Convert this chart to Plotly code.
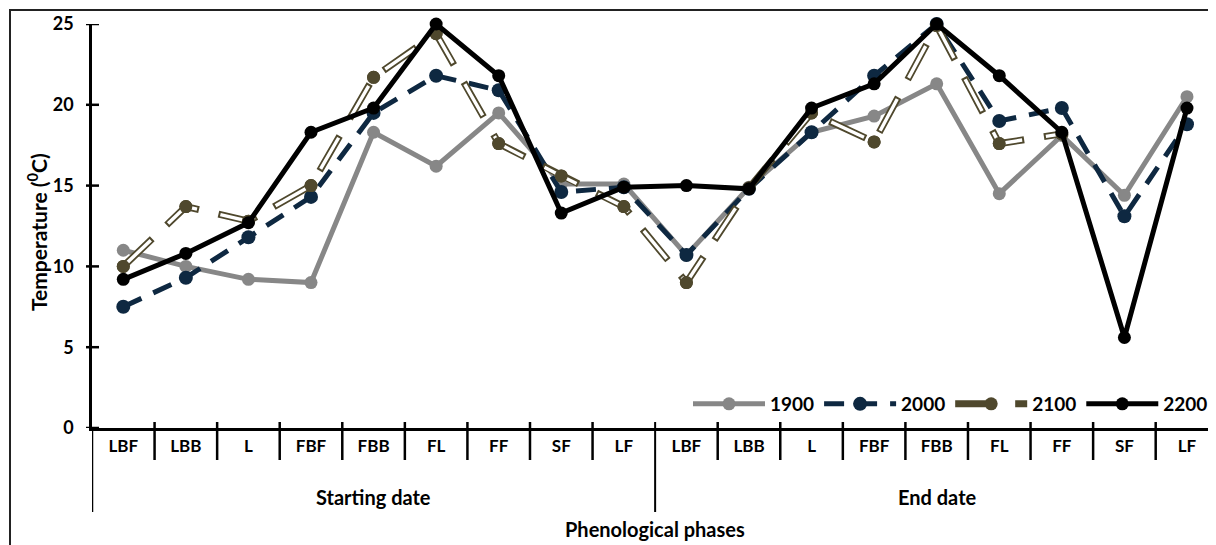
import plotly.graph_objects as go

# ---------------- data ----------------
phases = ["LBF", "LBB", "L", "FBF", "FBB", "FL", "FF", "SF", "LF"] * 2
groups = ["Starting date", "End date"]
y_ticks = [0, 5, 10, 15, 20, 25]

s1900 = [11.0, 10.0, 9.2, 9.0, 18.3, 16.2, 19.5, 15.1, 15.1,
         10.7, 14.9, 18.3, 19.3, 21.3, 14.5, 18.1, 14.4, 20.5]
s2000 = [7.5, 9.3, 11.8, 14.3, 19.5, 21.8, 20.9, 14.6, 14.9,
         10.7, 14.8, 18.3, 21.8, 25.0, 19.0, 19.8, 13.1, 18.8]
s2100 = [10.0, 13.7, 12.8, 15.0, 21.7, 24.4, 17.6, 15.6, 13.7,
         9.0, 14.85, 19.5, 17.7, 24.9, 17.6, 18.2, None, None]
s2200 = [9.2, 10.8, 12.7, 18.3, 19.8, 25.0, 21.8, 13.3, 14.9,
         15.0, 14.8, 19.8, 21.3, 25.0, 21.8, 18.3, 5.6, 19.8]

# ---------------- geometry helpers (page pixels -> paper) ----------------
OFF = 8                      # page body margin
W_FIG, H_FIG = 1216 - OFF, 545 - OFF
AXL, AXB, AXT = 92, 428, 24  # page-pixel positions of plot edges
L = AXL - OFF
T = AXT - OFF
B = (545 - OFF) - (AXB - OFF)
R = 0
PW, PH = W_FIG - L - R, AXB - AXT


def px(x):
    return (x - AXL) / PW


def py(y):
    return (AXB - y) / PH


xs = list(range(len(phases)))
FONT = "Lato"
GRAY, NAVY, OLIVE = "#878787", "#0e2841", "#4f482d"

fig = go.Figure()

fig.add_trace(go.Scatter(
    x=xs, y=s1900, name="1900", mode="lines+markers",
    line=dict(color=GRAY, width=5),
    marker=dict(color=GRAY, size=13), cliponaxis=False))

fig.add_trace(go.Scatter(
    x=xs, y=s2000, name="2000", mode="lines+markers",
    line=dict(color=NAVY, width=5, dash="20px,13px"),
    marker=dict(color=NAVY, size=14), cliponaxis=False))

# 2100: double (outlined) long-dash line
fig.add_trace(go.Scatter(
    x=xs, y=s2100, name="2100", mode="lines+markers", legendgroup="2100",
    line=dict(color=OLIVE, width=7, dash="40px,20px"),
    marker=dict(color=OLIVE, size=13), cliponaxis=False))
fig.add_trace(go.Scatter(
    x=xs, y=s2100, mode="lines", showlegend=False, hoverinfo="skip",
    legendgroup="2100",
    line=dict(color="white", width=3.4, dash="0px,2px,36px,22px"),
    cliponaxis=False))
fig.add_trace(go.Scatter(
    x=xs, y=s2100, mode="markers", showlegend=False, legendgroup="2100",
    marker=dict(color=OLIVE, size=13), cliponaxis=False))

fig.add_trace(go.Scatter(
    x=xs, y=s2200, name="2200", mode="lines+markers",
    line=dict(color="black", width=5),
    marker=dict(color="black", size=13), cliponaxis=False))

shapes = []
# outer frame
shapes.append(dict(type="rect", xref="paper", yref="paper",
                   x0=px(10), x1=px(1240), y0=py(600), y1=py(10),
                   line=dict(color="#222222", width=2), layer="below"))
# y-axis extension down to the group-divider depth
shapes.append(dict(type="line", xref="x", yref="paper",
                   x0=-0.5, x1=-0.5, y0=0, y1=py(512),
                   line=dict(color="black", width=2.5)))
# cross ticks on y-axis
for v in y_ticks:
    shapes.append(dict(type="line", xref="paper", yref="y",
                       x0=px(86), x1=px(99), y0=v, y1=v,
                       line=dict(color="black", width=2.5)))
# category boundaries
n = len(phases)
for k in range(1, n):
    bottom = 512 if k == n // 2 else 460
    shapes.append(dict(type="line", xref="x", yref="paper",
                       x0=k - 0.5, x1=k - 0.5, y0=py(422), y1=py(bottom),
                       line=dict(color="black", width=2.5 if k != n // 2 else 2)))

annotations = []
half = n // 2
for gi, g in enumerate(groups):
    annotations.append(dict(text=g, xref="x", yref="paper",
                            x=gi * half + (half - 1) / 2, y=py(497),
                            showarrow=False, yanchor="middle",
                            font=dict(size=20, family=FONT, color="black", weight="bold")))
annotations.append(dict(text="Phenological phases", xref="x", yref="paper",
                        x=half - 0.5, y=py(529), showarrow=False, yanchor="middle",
                        font=dict(size=20, family=FONT, color="black", weight="bold")))
annotations.append(dict(text="Temperature (<sup>0</sup>C)", xref="paper", yref="paper",
                        x=px(37), y=py(232), textangle=-90, showarrow=False,
                        xanchor="center", yanchor="middle",
                        font=dict(size=21, family=FONT, color="black", weight="bold")))

span = PW / 62.57
fig.update_layout(
    width=W_FIG, height=H_FIG,
    margin=dict(l=L, r=R, t=T, b=B, autoexpand=False),
    paper_bgcolor="white", plot_bgcolor="white",
    font=dict(family=FONT, size=16, color="black", weight="bold"),
    showlegend=True,
    legend=dict(orientation="h", x=px(1213), xanchor="right", y=py(404), yanchor="middle",
                bgcolor="rgba(0,0,0,0)", itemwidth=72,
                font=dict(size=19, family=FONT, color="black", weight="bold"),
                traceorder="normal", tracegroupgap=0),
    shapes=shapes, annotations=annotations,
    xaxis=dict(range=[-0.5, -0.5 + span], tickmode="array", tickvals=xs, ticktext=phases,
               showgrid=False, zeroline=False, showline=True, linecolor="black",
               linewidth=2.5, ticks="", ticklabelstandoff=1, automargin=False,
               tickfont=dict(size=17, family=FONT, color="black", weight="bold")),
    yaxis=dict(range=[0, 25], tickmode="array", tickvals=y_ticks,
               showgrid=False, zeroline=False, showline=True, linecolor="black",
               linewidth=2.5, ticks="", ticklabelstandoff=12, automargin=False,
               tickfont=dict(size=18, family=FONT, color="black", weight="bold")),
)

fig.write_html("out.html")
